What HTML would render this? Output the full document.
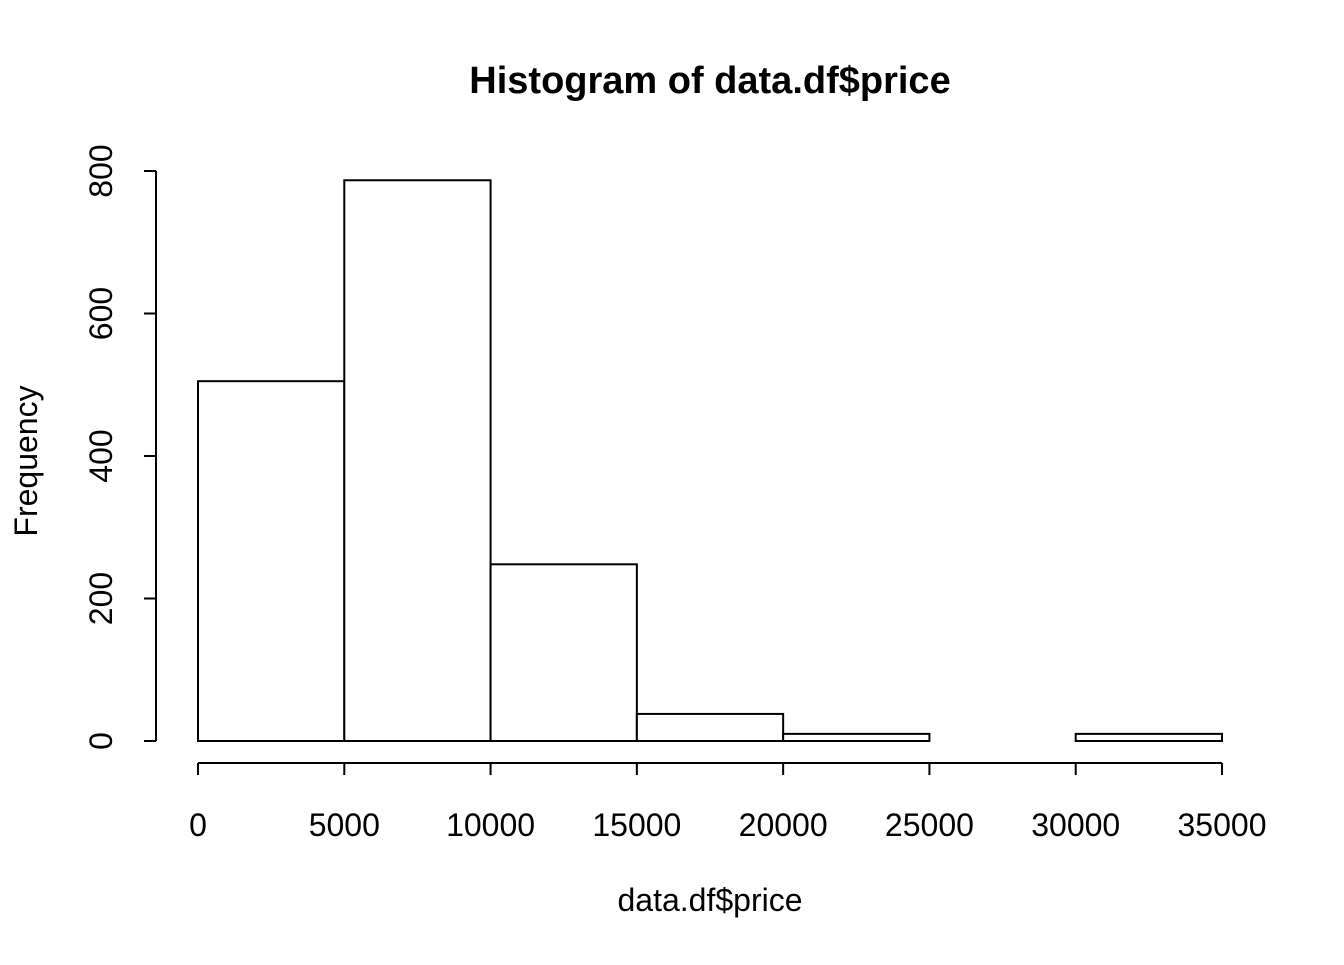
<!DOCTYPE html>
<html><head><meta charset="utf-8"><style>
body{margin:0;background:#fff;}
svg text{font-family:"Liberation Sans",Arial,sans-serif;fill:#000;}
</style></head><body>
<svg id="chart" width="1344" height="960" xmlns="http://www.w3.org/2000/svg">
<text x="710" y="93" font-size="38" font-weight="bold" text-anchor="middle">Histogram of data.df$price</text>
<text x="710" y="911" font-size="32" text-anchor="middle">data.df$price</text>
<text transform="translate(37,461) rotate(-90)" font-size="32" text-anchor="middle">Frequency</text>
<g id="bars"></g><g id="xaxis"></g><g id="yaxis"></g>
</svg>
<script>
const breaks=[0,5000,10000,15000,20000,25000,30000,35000];
const counts=[505,787,248,38,10,0,10];
const xTicks=[0,5000,10000,15000,20000,25000,30000,35000];
const yTicks=[0,200,400,600,800];
const NS="http://www.w3.org/2000/svg";
const X=v=>198+v*(1024/35000);
const Y=v=>741-v*(570/800);
function mk(t,a,p){const e=document.createElementNS(NS,t);for(const k in a)e.setAttribute(k,a[k]);p.appendChild(e);return e;}
const bars=document.getElementById('bars');
counts.forEach((c,i)=>{
 const r=mk('rect',{x:X(breaks[i]),y:Y(c),width:X(breaks[i+1])-X(breaks[i]),height:Y(0)-Y(c),fill:'#fff',stroke:'#000','stroke-width':2},bars);
 
 
});
const xa=document.getElementById('xaxis');
const xl=mk('line',{x1:X(xTicks[0]),x2:X(xTicks[xTicks.length-1]),y1:763,y2:763,stroke:'#000','stroke-width':2},xa);


xTicks.forEach(v=>{
 mk('line',{x1:X(v),x2:X(v),y1:763,y2:775,stroke:'#000','stroke-width':2},xa);
 const t=mk('text',{x:X(v),y:836,'font-size':32,'text-anchor':'middle'},xa);t.textContent=v;
 
 
});
const ya=document.getElementById('yaxis');
const yl=mk('line',{x1:156,x2:156,y1:Y(yTicks[0]),y2:Y(yTicks[yTicks.length-1]),stroke:'#000','stroke-width':2},ya);


yTicks.forEach(v=>{
 mk('line',{x1:144,x2:156,y1:Y(v),y2:Y(v),stroke:'#000','stroke-width':2},ya);
 const t=mk('text',{transform:`translate(112,${Y(v)}) rotate(-90)`,'font-size':32,'text-anchor':'middle'},ya);t.textContent=v;
 
 
});
</script>
</body></html>
